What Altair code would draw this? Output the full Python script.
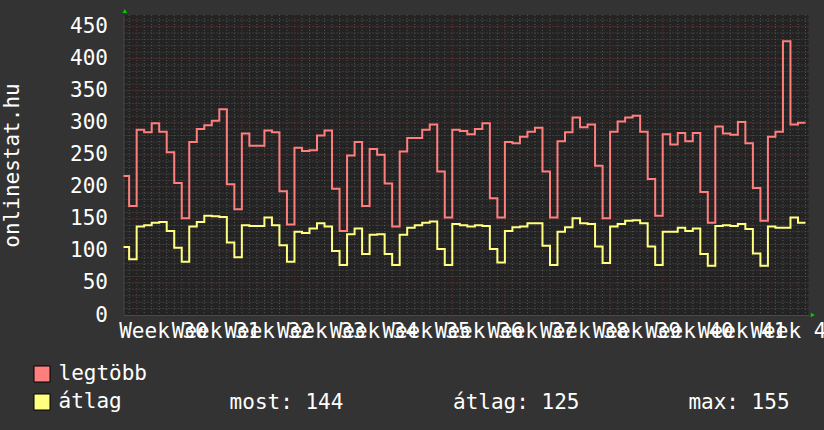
import altair as alt
import pandas as pd

MONO = "DejaVu Sans Mono"

# Daily values; day 0 is the Monday that opens week 30, day -2 the Saturday before it.
days = list(range(-2, 89))

legtobb = [
    217, 170, 289, 285, 299, 286, 254, 206, 151,
    270, 290, 296, 303, 321, 204, 165,
    283, 264, 264, 288, 285, 193, 141,
    261, 256, 257, 280, 288, 197, 131,
    249, 270, 170, 259, 250, 205, 138,
    255, 276, 276, 289, 297, 224, 152,
    289, 287, 282, 290, 299, 182, 152,
    270, 268, 278, 286, 292, 224, 152,
    271, 285, 308, 293, 297, 233, 151,
    286, 302, 308, 311, 286, 212, 155,
    282, 266, 284, 271, 284, 192, 144,
    294, 283, 281, 301, 268, 198, 147,
    278, 286, 427, 297, 300,
]

atlag = [
    106, 87, 138, 140, 144, 145, 131, 105, 83,
    138, 145, 155, 154, 153, 113, 90,
    140, 139, 139, 152, 140, 109, 83,
    130, 128, 135, 143, 138, 100, 78,
    126, 135, 95, 125, 126, 95, 78,
    125, 136, 140, 144, 146, 103, 78,
    142, 140, 138, 140, 139, 103, 82,
    131, 137, 138, 143, 143, 108, 78,
    130, 137, 151, 143, 142, 107, 81,
    138, 142, 147, 148, 143, 107, 78,
    130, 130, 136, 131, 135, 95, 77,
    139, 140, 139, 142, 134, 96, 77,
    138, 136, 136, 152, 144,
]

series_names = ["legtöbb", "átlag"]
series_colors = ["#ff7f7f", "#ffff80"]

week_labels = ["Week %d" % w for w in range(30, 43)]
y_ticks = list(range(0, 451, 50))
y_minor = list(range(10, 461, 10))
day_minor = list(range(-1, 90))
week_starts = list(range(0, 85, 7))

# summary of the average series for the legend line
stat_most = atlag[-1]
stat_avg = round(sum(atlag) / len(atlag))
stat_max = max(atlag)

x_scale = alt.Scale(domain=[-1.75, 89.4], nice=False, zero=False)
y_scale = alt.Scale(domain=[0, 468], nice=False)

# long table for the two step lines; the last step is closed at the end of its day
wide = pd.DataFrame({"day": days, "legtöbb": legtobb, "átlag": atlag})
tail = wide.iloc[[-1]].copy()
tail["day"] = days[-1] + 1
wide = pd.concat([wide, tail], ignore_index=True)
long = wide.melt("day", var_name="series", value_name="value")

week_expr = "[" + ",".join("'%s'" % w for w in week_labels) + "][floor(datum.value / 7)]"

x_axis = alt.Axis(
    values=[3.5 + 7 * i for i in range(len(week_labels))],
    labelExpr=week_expr,
    title=None,
    grid=False,
    ticks=False,
    tickSize=0,
    domain=True,
    domainColor="#4a4a4a",
    labelFont=MONO,
    labelFontSize=21,
    labelColor="#ffffff",
    labelPadding=22.5,
    labelBaseline="alphabetic",
    labelAlign="center",
    labelOverlap=False,
    labelFlush=False,
    labelBound=False,
)

y_axis = alt.Axis(
    values=y_ticks,
    title="onlinestat.hu",
    grid=False,
    ticks=False,
    tickSize=0,
    domain=True,
    domainColor="#4a4a4a",
    labelFont=MONO,
    labelFontSize=21,
    labelColor="#ffffff",
    labelPadding=16,
    titleFont=MONO,
    titleFontSize=21,
    titleFontWeight="normal",
    titleColor="#ffffff",
    titleAngle=270,
    titleAlign="center",
    titleBaseline="middle",
    titleX=-111.5,
    titleY=150,
)


def X(field):
    return alt.X(field, scale=x_scale, axis=x_axis)


def Y(field):
    return alt.Y(field, scale=y_scale, axis=y_axis)


minor_style = dict(color="#555555", strokeDash=[1, 2], strokeWidth=1)
major_style = dict(color="#622828", strokeDash=[1, 2], strokeWidth=1)

h_minor = alt.Chart(pd.DataFrame({"v": y_minor})).mark_rule(**minor_style).encode(y=Y("v:Q"))
v_minor = alt.Chart(pd.DataFrame({"d": day_minor})).mark_rule(**minor_style).encode(x=X("d:Q"))
h_major = alt.Chart(pd.DataFrame({"v": y_ticks[1:]})).mark_rule(**major_style).encode(y=Y("v:Q"))
v_major = alt.Chart(pd.DataFrame({"d": week_starts})).mark_rule(**major_style).encode(x=X("d:Q"))


def step_line(name, color):
    return (
        alt.Chart(long)
        .transform_filter(alt.datum.series == name)
        .mark_line(interpolate="step-after", strokeWidth=2, clip=True, color=color)
        .encode(x=X("day:Q"), y=Y("value:Q"))
    )


lines = [step_line(n, c) for n, c in zip(series_names, series_colors)]

# invisible squares that carry the colour legend
legend_marks = alt.Chart(long).mark_square(opacity=0, size=1).encode(
    x=X("day:Q"),
    y=Y("value:Q"),
    fill=alt.Fill(
        "series:N",
        scale=alt.Scale(domain=series_names, range=series_colors),
        legend=alt.Legend(
            title=None,
            orient="none",
            legendX=-92,
            legendY=348.5,
            direction="vertical",
            symbolType="square",
            symbolSize=256,
            symbolStrokeColor="#000000",
            symbolStrokeWidth=1,
            symbolOpacity=1,
            labelFont=MONO,
            labelFontSize=21,
            labelColor="#ffffff",
            labelOffset=6,
            rowPadding=6,
            padding=0,
            labelLimit=0,
        ),
    ),
)

one = pd.DataFrame({"k": [0]})
arrow_up = alt.Chart(one).mark_point(
    shape="triangle-up", filled=True, color="#00cc00", opacity=1, size=22, yOffset=-4, xOffset=1.3, clip=False
).encode(
    x=alt.XDatum(-1.75, scale=x_scale, axis=x_axis),
    y=alt.YDatum(468, scale=y_scale, axis=y_axis),
)
arrow_right = alt.Chart(one).mark_point(
    shape="triangle-right", filled=True, color="#00cc00", opacity=1, size=22, xOffset=4.3, clip=False
).encode(
    x=alt.XDatum(89.4, scale=x_scale, axis=x_axis),
    y=alt.YDatum(0, scale=y_scale, axis=y_axis),
)

stat_style = dict(font=MONO, fontSize=21, color="#ffffff", align="left", baseline="alphabetic")


def stat_text(text, x):
    return alt.Chart(pd.DataFrame({"t": [text]})).mark_text(**stat_style).encode(
        text="t:N", x=alt.value(x), y=alt.value(393.5)
    )


stats = [
    stat_text("most: %d" % stat_most, 106.1),
    stat_text("átlag: %d" % stat_avg, 329.5),
    stat_text("max: %d" % stat_max, 564.9),
]

chart = alt.layer(
    h_minor, v_minor, h_major, v_major, *lines, legend_marks, arrow_up, arrow_right, *stats
).properties(
    width=685,
    height=300,
    autosize=alt.AutoSizeParams(type="none"),
    padding={"left": 123.5, "top": 15, "right": 15.5, "bottom": 115},
    background="#333333",
).configure_view(
    fill="#232323", stroke=None
)

chart.save("out.html", embed_options={"renderer": "svg", "actions": False})
